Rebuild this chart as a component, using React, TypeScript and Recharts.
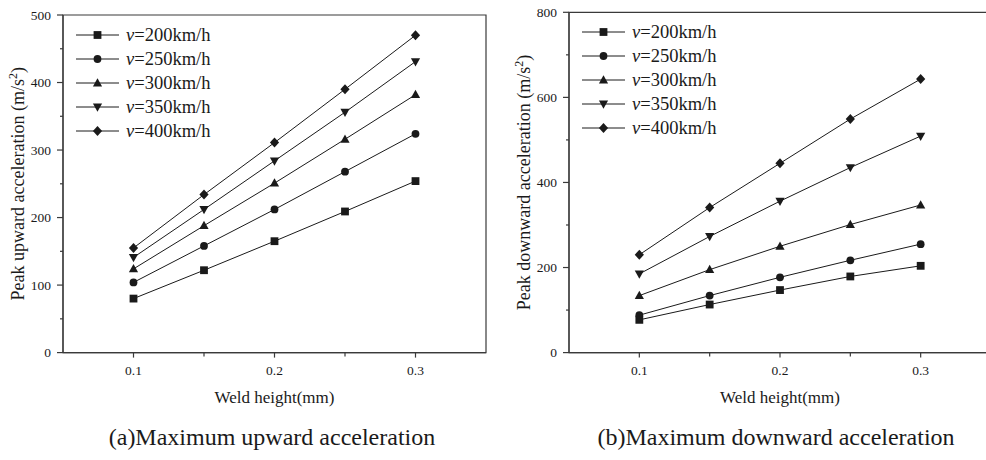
import { Label, Legend, Line, LineChart, ReferenceArea, XAxis, YAxis } from "recharts";

// Two side-by-side panels: peak upward / downward acceleration vs weld height,
// one line per train speed.

const HEIGHTS = [0.1, 0.15, 0.2, 0.25, 0.3];
const X_TICKS = [0.1, 0.15, 0.2, 0.25, 0.3];
const X_MAJOR = [0.1, 0.2, 0.3];

const UP_TICKS = [0, 50, 100, 150, 200, 250, 300, 350, 400, 450, 500];
const DOWN_TICKS = [0, 100, 200, 300, 400, 500, 600, 700, 800];

// upward peaks (m/s2)
const UP_V200 = [80, 122, 165, 209, 254];
const UP_V250 = [104, 158, 212, 268, 324];
const UP_V300 = [124, 188, 251, 316, 382];
const UP_V350 = [141, 212, 284, 356, 431];
const UP_V400 = [155, 234, 311, 390, 470];

// downward peaks (m/s2)
const DOWN_V200 = [77, 113, 147, 179, 204];
const DOWN_V250 = [88, 134, 177, 217, 255];
const DOWN_V300 = [134, 195, 250, 301, 347];
const DOWN_V350 = [185, 273, 356, 435, 509];
const DOWN_V400 = [230, 341, 445, 549, 643];

const SERIF = '"Liberation Serif", "Times New Roman", serif';
const INK = "#1a1a1a";
const AXIS = "#3a3a3a";

type Shape = "square" | "circle" | "triangle" | "triangleDown" | "diamond";

const SERIES: Array<{ key: string; speed: string; shape: Shape }> = [
  { key: "v200", speed: "200", shape: "square" },
  { key: "v250", speed: "250", shape: "circle" },
  { key: "v300", speed: "300", shape: "triangle" },
  { key: "v350", speed: "350", shape: "triangleDown" },
  { key: "v400", speed: "400", shape: "diamond" },
];

const upData = HEIGHTS.map((h, i) => ({
  h,
  v200: UP_V200[i],
  v250: UP_V250[i],
  v300: UP_V300[i],
  v350: UP_V350[i],
  v400: UP_V400[i],
}));

const downData = HEIGHTS.map((h, i) => ({
  h,
  v200: DOWN_V200[i],
  v250: DOWN_V250[i],
  v300: DOWN_V300[i],
  v350: DOWN_V350[i],
  v400: DOWN_V400[i],
}));

function Marker({ cx, cy, shape }: { cx: number; cy: number; shape: Shape }) {
  if (cx == null || cy == null) return null;
  switch (shape) {
    case "square":
      return <rect x={cx - 3.9} y={cy - 3.9} width={7.8} height={7.8} fill={INK} />;
    case "circle":
      return <circle cx={cx} cy={cy} r={3.9} fill={INK} />;
    case "triangle":
      return (
        <path d={`M${cx},${cy - 4.8} L${cx + 4.6},${cy + 3.4} L${cx - 4.6},${cy + 3.4} Z`} fill={INK} />
      );
    case "triangleDown":
      return (
        <path d={`M${cx},${cy + 4.8} L${cx + 4.6},${cy - 3.4} L${cx - 4.6},${cy - 3.4} Z`} fill={INK} />
      );
    default:
      return (
        <path d={`M${cx},${cy - 5} L${cx + 4.6},${cy} L${cx},${cy + 5} L${cx - 4.6},${cy} Z`} fill={INK} />
      );
  }
}

function LegendBox({ payload }: any) {
  const entries = (payload ?? []) as Array<{ dataKey?: string }>;
  return (
    <div style={{ fontFamily: SERIF, fontSize: 18.5, color: INK, lineHeight: "24px" }}>
      {entries.map((e) => {
        const s = SERIES.find((x) => x.key === e.dataKey);
        if (!s) return null;
        return (
          <div key={s.key} style={{ display: "flex", alignItems: "center", height: 24 }}>
            <svg width={43} height={12} style={{ display: "block" }}>
              <line x1={0} x2={43} y1={6} y2={6} stroke={INK} strokeWidth={1} />
              <Marker cx={21.5} cy={6} shape={s.shape} />
            </svg>
            <span style={{ marginLeft: 7, whiteSpace: "nowrap" }}>
              <i>v</i>={s.speed}km/h
            </span>
          </div>
        );
      })}
    </div>
  );
}

function YTick({ x, y, payload, major }: any) {
  const isMajor = payload.value % major === 0;
  return (
    <g>
      <line x1={x - (isMajor ? 6 : 3)} x2={x} y1={y} y2={y} stroke={AXIS} strokeWidth={1.2} />
      {isMajor && (
        <text x={x - 12} y={y} dy="0.35em" textAnchor="end" fontFamily={SERIF} fontSize={13.5} fill={INK}>
          {payload.value}
        </text>
      )}
    </g>
  );
}

function XTick({ x, y, payload }: any) {
  const isMajor = X_MAJOR.some((m) => Math.abs(m - payload.value) < 1e-9);
  return (
    <g>
      <line x1={x} x2={x} y1={y} y2={y + (isMajor ? 5 : 4)} stroke={AXIS} strokeWidth={1.2} />
      {isMajor && (
        <text x={x} y={y + 22} textAnchor="middle" fontFamily={SERIF} fontSize={13.5} fill={INK}>
          {payload.value}
        </text>
      )}
    </g>
  );
}

function Panel({
  data,
  left,
  width,
  top,
  yAxisWidth,
  rightMargin,
  yMax,
  yTicks,
  yMajor,
  yTitle,
}: {
  data: any[];
  left: number;
  width: number;
  top: number;
  yAxisWidth: number;
  rightMargin: number;
  yMax: number;
  yTicks: number[];
  yMajor: number;
  yTitle: string;
}) {
  const bottom = 460 - 352.6 - 30;
  return (
    <div style={{ position: "absolute", left, top: 0 }}>
      <LineChart
        width={width}
        height={460}
        data={data}
        margin={{ top, right: rightMargin, left: 0, bottom }}
      >
        <XAxis
          dataKey="h"
          type="number"
          domain={[0.05, 0.35]}
          ticks={X_TICKS}
          allowDataOverflow
          height={30}
          tickSize={0}
          tickMargin={0}
          tickLine={false}
          axisLine={{ stroke: AXIS, strokeWidth: 1.2 }}
          tick={<XTick />}
        >
          <Label
            content={({ viewBox }: any) => (
              <text
                x={viewBox.x + viewBox.width / 2}
                y={viewBox.y + 50}
                textAnchor="middle"
                fontFamily={SERIF}
                fontSize={17}
                fill={INK}
              >
                Weld height(mm)
              </text>
            )}
          />
        </XAxis>
        <YAxis
          type="number"
          domain={[0, yMax]}
          ticks={yTicks}
          width={yAxisWidth}
          tickSize={0}
          tickMargin={0}
          tickLine={false}
          axisLine={{ stroke: AXIS, strokeWidth: 1.2 }}
          tick={<YTick major={yMajor} />}
        >
          <Label
            content={({ viewBox }: any) => {
              const cx = viewBox.x + viewBox.width - 39;
              const cy = viewBox.y + viewBox.height / 2;
              return (
                <text
                  x={cx}
                  y={cy}
                  transform={`rotate(-90 ${cx} ${cy})`}
                  textAnchor="middle"
                  fontFamily={SERIF}
                  fontSize={18}
                  fill={INK}
                >
                  {yTitle} (m/s
                  <tspan dy={-7} fontSize={12}>
                    2
                  </tspan>
                  <tspan dy={7}>)</tspan>
                </text>
              );
            }}
          />
        </YAxis>
        <ReferenceArea
          x1={0.05}
          x2={0.35}
          y1={0}
          y2={yMax}
          fill="none"
          stroke={AXIS}
          strokeWidth={1.2}
          ifOverflow="visible"
        />
        <Legend
          layout="vertical"
          align="center"
          verticalAlign="middle"
          content={<LegendBox />}
          wrapperStyle={{ left: yAxisWidth + 13, top: top + 8, width: "auto" }}
        />
        {SERIES.map((s) => (
          <Line
            key={s.key}
            dataKey={s.key}
            name={s.key}
            type="linear"
            stroke={INK}
            strokeWidth={1}
            isAnimationActive={false}
            dot={(p: any) => <Marker key={`${s.key}-${p.index}`} cx={p.cx} cy={p.cy} shape={s.shape} />}
            activeDot={false}
            legendType="line"
          />
        ))}
      </LineChart>
    </div>
  );
}

const CAPTION: React.CSSProperties = {
  position: "absolute",
  top: 425,
  fontFamily: SERIF,
  fontSize: 24,
  lineHeight: "24px",
  color: INK,
  whiteSpace: "nowrap",
  transform: "translateX(-50%)",
};

export default function App() {
  return (
    <div
      style={{
        position: "fixed",
        left: 0,
        top: 0,
        width: 986,
        height: 460,
        overflow: "hidden",
        background: "#fff",
      }}
    >
      <Panel
        data={upData}
        left={0}
        width={500}
        top={15}
        yAxisWidth={63}
        rightMargin={14}
        yMax={500}
        yTicks={UP_TICKS}
        yMajor={100}
        yTitle="Peak upward acceleration"
      />
      <Panel
        data={downData}
        left={490}
        width={506}
        top={12.3}
        yAxisWidth={79}
        rightMargin={5}
        yMax={800}
        yTicks={DOWN_TICKS}
        yMajor={200}
        yTitle="Peak downward acceleration"
      />
      <div style={{ ...CAPTION, left: 272 }}>(a)Maximum upward acceleration</div>
      <div style={{ ...CAPTION, left: 776 }}>(b)Maximum downward acceleration</div>
    </div>
  );
}
